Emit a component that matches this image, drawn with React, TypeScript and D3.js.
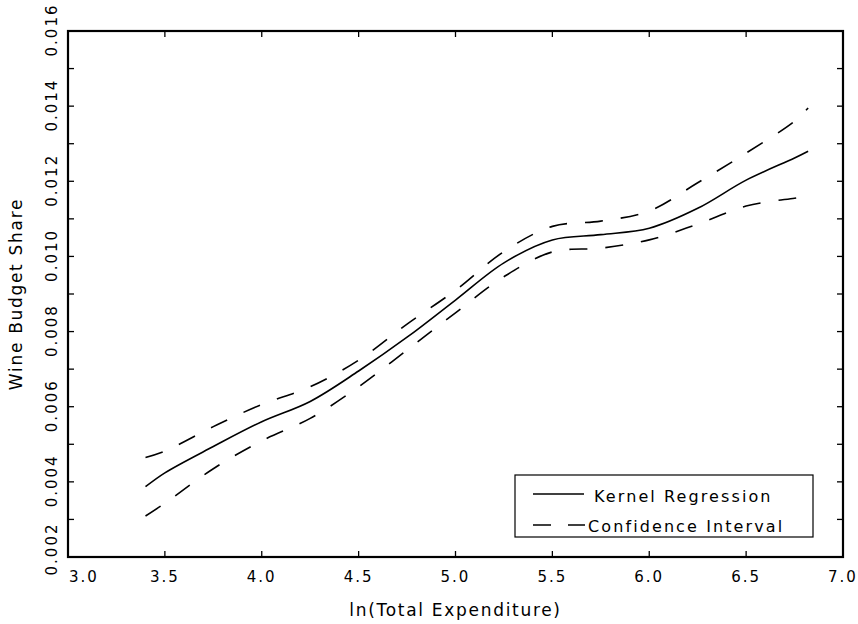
import React from 'react';
import * as d3 from 'd3';

const xValues = [3.4, 3.5, 3.75, 4.0, 4.25, 4.5, 4.75, 5.0, 5.25, 5.5, 5.75, 6.0, 6.25, 6.5, 6.75, 6.82];
const kernel = [0.00387, 0.00424, 0.00494, 0.0056, 0.00614, 0.00695, 0.00785, 0.00884, 0.00983, 0.01044, 0.01058, 0.01075, 0.01128, 0.01203, 0.01262, 0.0128];
const upper = [0.00465, 0.00482, 0.00547, 0.00606, 0.00653, 0.00724, 0.0082, 0.0091, 0.01013, 0.0108, 0.01094, 0.01121, 0.01196, 0.01275, 0.0136, 0.01395];
const lower = [0.00309, 0.00343, 0.00435, 0.00509, 0.00569, 0.00653, 0.00751, 0.0085, 0.00946, 0.01012, 0.01022, 0.01044, 0.01086, 0.01134, 0.01155, 0.0116];

const xTicks = [3.0, 3.5, 4.0, 4.5, 5.0, 5.5, 6.0, 6.5, 7.0];
const yTicks = [0.002, 0.004, 0.006, 0.008, 0.01, 0.012, 0.014, 0.016];
const yMinorTicks = [0.003, 0.005, 0.007, 0.009, 0.011, 0.013, 0.015];

const legendItems = ['Kernel Regression', 'Confidence Interval'];
const xTitle = 'ln(Total Expenditure)';
const yTitle = 'Wine Budget Share';

const W = 858, H = 624;
const L = 68, R = 843, T = 31, B = 557;
const FONT = "'DejaVu Sans', sans-serif";

export default function App() {
  const x = d3.scaleLinear().domain([3, 7]).range([L, R]);
  const y = d3.scaleLinear().domain([0.002, 0.016]).range([B, T]);
  const mk = (vals: number[]) =>
    d3.line<number>()
      .x((_, i) => x(xValues[i]))
      .y((d) => y(d))
      .curve(d3.curveCatmullRom.alpha(0.5))(vals) || '';
  const tickLen = 6;
  const allY = [...yTicks, ...yMinorTicks];
  return (
    <svg width={W} height={H} style={{ position: 'absolute', left: 0, top: 0, background: '#fff' }}>
      <rect x={0} y={0} width={W} height={H} fill="#fff" />
      {xTicks.slice(1, -1).map((t) => (
        <g key={'xt' + t}>
          <line x1={x(t)} x2={x(t)} y1={B} y2={B - tickLen} stroke="#000" strokeWidth={1.3} />
          <line x1={x(t)} x2={x(t)} y1={T} y2={T + tickLen} stroke="#000" strokeWidth={1.3} />
        </g>
      ))}
      {allY.filter((t) => t > 0.0021 && t < 0.0159).map((t) => (
        <g key={'yt' + t}>
          <line x1={L} x2={L + tickLen} y1={y(t)} y2={y(t)} stroke="#000" strokeWidth={1.3} />
          <line x1={R} x2={R - tickLen} y1={y(t)} y2={y(t)} stroke="#000" strokeWidth={1.3} />
        </g>
      ))}
      <rect x={L} y={T} width={R - L} height={B - T} fill="none" stroke="#000" strokeWidth={2.2} />
      <path d={mk(upper)} fill="none" stroke="#000" strokeWidth={1.6} strokeDasharray="18 18" />
      <path d={mk(lower)} fill="none" stroke="#000" strokeWidth={1.6} strokeDasharray="18 18" />
      <path d={mk(kernel)} fill="none" stroke="#000" strokeWidth={1.6} />
      {xTicks.map((t, i) => (
        <text key={'xl' + t} x={i === 0 ? L + 1 : x(t)} y={582} textAnchor={i === 0 ? 'start' : 'middle'}
          fontFamily={FONT} fontSize={15} letterSpacing={2} fill="#000">
          {d3.format('.1f')(t)}
        </text>
      ))}
      {yTicks.map((t, i) => (
        <text key={'yl' + t} transform={`translate(57,${y(t) + (i === 0 ? -8 : -1)}) rotate(-90)`}
          textAnchor="middle" fontFamily={FONT} fontSize={15} letterSpacing={2} fill="#000">
          {d3.format('.3f')(t)}
        </text>
      ))}
      <text x={(L + R) / 2} y={616} textAnchor="middle" fontFamily={FONT} fontSize={17} letterSpacing={1.7} fill="#000">
        {xTitle}
      </text>
      <text transform={`translate(22,${(T + B) / 2}) rotate(-90)`} textAnchor="middle" fontFamily={FONT}
        fontSize={17} letterSpacing={1.7} fill="#000">
        {yTitle}
      </text>
      <rect x={515} y={475} width={298} height={62} fill="#fff" stroke="#000" strokeWidth={1.2} />
      <line x1={533} x2={584} y1={494} y2={494} stroke="#000" strokeWidth={1.3} />
      <line x1={533} x2={585} y1={525} y2={525} stroke="#000" strokeWidth={1.3} strokeDasharray="18 17" />
      <text x={594} y={502} fontFamily={FONT} fontSize={16} letterSpacing={2.1} fill="#000">{legendItems[0]}</text>
      <text x={588} y={532} fontFamily={FONT} fontSize={16} letterSpacing={2.1} fill="#000">{legendItems[1]}</text>
    </svg>
  );
}
